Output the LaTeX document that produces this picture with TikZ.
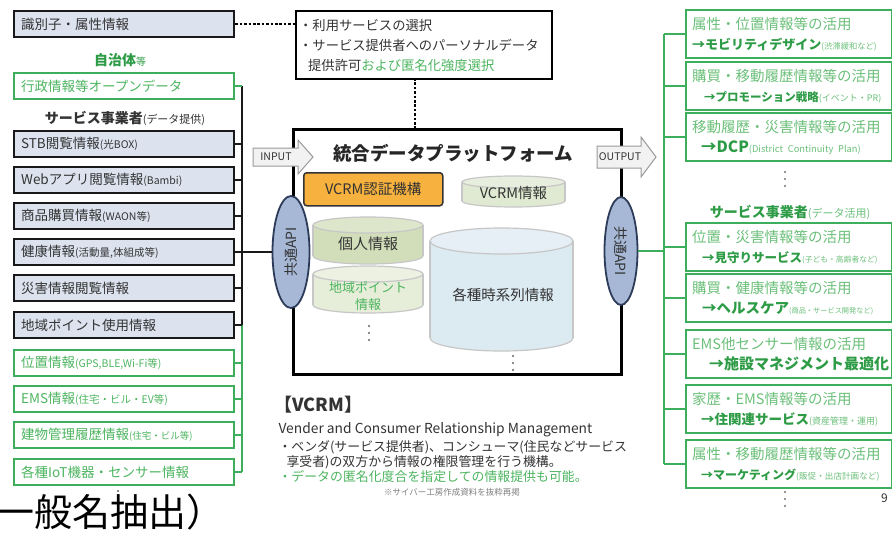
\documentclass[tikz,border=0pt]{standalone}
\usepackage{fontspec}
\setmainfont{Noto Sans CJK JP}
\usetikzlibrary{shapes.geometric}
\definecolor{lbfill}{HTML}{DCE3EF}
\definecolor{gline}{HTML}{3DAE5B}
\definecolor{gtext}{HTML}{4DB560}
\definecolor{gdark}{HTML}{2E9C46}
\definecolor{gpale}{HTML}{6CC07A}
\definecolor{darktxt}{HTML}{333333}
\definecolor{orng}{HTML}{F6B13E}
\definecolor{apifill}{HTML}{A6B8D6}
\definecolor{apiline}{HTML}{2C3B58}
\definecolor{cylA}{HTML}{E0E9D1}
\definecolor{cylB}{HTML}{D2DEBA}
\definecolor{cylC}{HTML}{E6EDD9}
\definecolor{cylD}{HTML}{DCEAF2}
\definecolor{arrfill}{HTML}{F2F2F2}
\definecolor{arrline}{HTML}{9A9A9A}
\newcommand\fsz[1]{\fontsize{#1}{#1}\selectfont}
\newcommand\rtwo[5]{\hspace*{#1pt}{\color{gdark}\bfseries\fsz{#4}→#2}{\color{gpale}\fsz{#5}#3}}
\newcommand\cylshape[6]{%
  \fill[#6, draw=black!22, line width=1.2pt] (#1,#4) ellipse [x radius=#2, y radius=#5];
  \fill[#6] (#1-#2,#3) rectangle (#1+#2,#4);
  \draw[black!22, line width=1.2pt] (#1-#2,#3) -- (#1-#2,#4) (#1+#2,#3) -- (#1+#2,#4);
  \fill[#6!75!white, draw=black!22, line width=1.2pt] (#1,#3) ellipse [x radius=#2, y radius=#5];}
\newcommand\mydots[4]{\foreach \k in {0,...,#4}{\fill[#1] (#2,#3+\k*7) circle (1.1);}}
\begin{document}
\begin{tikzpicture}[x=1pt,y=-1pt,
  lbox/.style={draw=black!90, line width=2.3pt, fill=lbfill, text=darktxt, anchor=north west, minimum height=26pt, text width=206pt, inner xsep=7pt, inner ysep=0pt, align=left, font=\fsz{13.5}},
  gbox/.style={draw=gline, line width=2.3pt, fill=white, text=gtext, anchor=north west, minimum height=26pt, text width=206pt, inner xsep=7pt, inner ysep=0pt, align=left, font=\fsz{13.5}},
  rbox/.style={draw=gline, line width=2.3pt, fill=white, anchor=north west, minimum height=48pt, text width=194pt, inner xsep=6pt, inner ysep=0pt, align=left, text=gpale, font=\fontsize{14.5}{20}\selectfont},
  bl/.style={black!90, line width=2pt},
  gl/.style={gline, line width=2.3pt},
  dotl/.style={black, line width=2.6pt, dash pattern=on 2.6pt off 1.8pt},
  api/.style={ellipse, draw=apiline, line width=1.8pt, fill=apifill, inner sep=0pt},
  cyltext/.style={font=\fsz{14.5}, text=darktxt, align=center}]
\useasboundingbox (0,0) rectangle (892,533);
\fill[white] (0,0) rectangle (892,533);

% ---------------- left column
\node[lbox] (b1) at (13,10) {識別子・属性情報};
\node[font=\fsz{14}, text=gdark] (lg1) at (120,60) {{\bfseries 自治体}{\fsz{10}等}};
\node[gbox] (b2) at (13,72) {行政情報等オープンデータ};
\node[font=\fsz{14}, text=darktxt] (lg2) at (125,118) {{\bfseries サービス事業者}{\fsz{11}(データ提供)}};
\node[lbox] (b3) at (13,130) {STB閲覧情報{\fsz{10.5}(光BOX)}};
\node[lbox] (b4) at (13,166) {Webアプリ閲覧情報{\fsz{10.5}(Bambi)}};
\node[lbox] (b5) at (13,202) {商品購買情報{\fsz{10.5}(WAON等)}};
\node[lbox] (b6) at (13,238) {健康情報{\fsz{10.5}(活動量,体組成等)}};
\node[lbox] (b7) at (13,274) {災害情報閲覧情報};
\node[lbox] (b8) at (13,311) {地域ポイント使用情報};
\node[gbox] (b9) at (13,349) {位置情報{\fsz{10.5}(GPS,BLE,Wi-Fi等)}};
\node[gbox] (b10) at (13,385) {EMS情報{\fsz{10.5}(住宅・ビル・EV等)}};
\node[gbox] (b11) at (13,421) {建物管理履歴情報{\fsz{9.5}(住宅・ビル等)}};
\node[gbox] (b12) at (13,458) {各種IoT機器・センサー情報};
\mydots{black!60}{118}{491}{3}

\coordinate (ls) at (242,0);
\draw[bl] (b2.east -| ls) -- (b8.east -| ls);
\draw[gl] (b8.east -| ls) -- (b12.east -| ls);
\draw[gl] (b2.east) -- (b2.east -| ls);
\foreach \n in {b3,b4,b5,b6,b7,b8} \draw[bl] (\n.east) -- (\n.east -| ls);
\foreach \n in {b9,b10,b11,b12} \draw[gl] (\n.east) -- (\n.east -| ls);

% ---------------- top selection box
\node[draw, line width=2.3pt, fill=white, anchor=north west, minimum width=256pt, minimum height=68pt, text width=250pt, inner xsep=3pt, inner ysep=0pt, align=left, text=darktxt, font=\fontsize{13.3}{20}\selectfont] (sel) at (295,10)
  {・利用サービスの選択\\・サービス提供者へのパーソナルデータ\\\hspace*{9pt}提供許可{\color{gtext}および匿名化強度選択}};
\draw[dotl] (b1.east) -- (b1.east -| sel.west);

% ---------------- platform
\node[draw, line width=3pt, fill=white, anchor=north west, minimum width=328pt, minimum height=245pt, inner sep=0pt] (plat) at (292,128) {};
\coordinate (vd) at (415,78);
\draw[dotl] (vd) -- (vd |- plat.north);
\node[font=\bfseries\fsz{18.5}, text=black!85] (title) at (453,153) {統合データプラットフォーム};

\node[draw=black!80, line width=1.5pt, fill=orng, rounded corners=3pt, anchor=north west, minimum width=139pt, minimum height=33pt, font=\fsz{14.5}, text=darktxt] (auth) at (303,172) {VCRM認証機構};

\cylshape{513.5}{51.5}{182}{201}{6}{cylA}
\node[cyltext] (vinfo) at (513.5,193) {VCRM情報};
\cylshape{368}{55}{225}{256}{8}{cylB}
\node[cyltext, font=\fsz{15}] (pinfo) at (368,244) {個人情報};
\cylshape{368}{55}{274}{305}{8}{cylC}
\node[cyltext, font=\fontsize{13}{17}\selectfont, text=gtext] (rinfo) at (368,296) {地域ポイント\\情報};
\mydots{black!60}{369}{326}{2}
\cylshape{501.5}{71.5}{241}{338}{13}{cylD}
\node[cyltext] (tinfo) at (503,295) {各種時系列情報};
\mydots{black!60}{513}{356}{2}

% INPUT / OUTPUT arrows
\draw[fill=arrfill, draw=arrline, line width=1pt] (253,148) -- (298,148) -- (298,140) -- (313,157) -- (298,174) -- (298,166) -- (253,166) -- cycle;
\node[font=\fsz{10.5}, text=darktxt] (inp) at (276,157) {INPUT};
\draw[fill=arrfill, draw=arrline, line width=1pt] (597,146) -- (641,146) -- (641,137) -- (656,157) -- (641,177) -- (641,168) -- (597,168) -- cycle;
\node[font=\fsz{10.5}, text=darktxt] (outp) at (620,157) {OUTPUT};

% APIs
\node[api, minimum width=37pt, minimum height=112pt] (lapi) at (291,252) {};
\node[rotate=90, font=\fsz{14}, text=darktxt] at (lapi) {共通API};
\node[api, minimum width=33pt, minimum height=108pt] (rapi) at (621,251) {};
\node[rotate=-90, font=\fsz{14}, text=darktxt] at (rapi) {共通API};
\draw[bl] (lapi.west -| ls) -- (lapi.west);

% ---------------- right column
\node[rbox] (r1) at (685,9) {属性・位置情報等の活用\\\rtwo{0}{モビリティデザイン}{(渋滞緩和など)}{13}{8.3}};
\node[rbox] (r2) at (685,61) {購買・移動履歴情報等の活用\\\rtwo{12}{プロモーション戦略}{(イベント・PR)}{11.5}{9}};
\node[rbox] (r3) at (685,112) {移動履歴・災害情報等の活用\\\rtwo{9}{DCP}{(District Continuity Plan)}{15.5}{9.3}};
\mydots{black!55}{785}{172}{2}
\node[font=\fsz{14}, text=gdark] (rg) at (790,212) {{\bfseries サービス事業者}{\color{gpale}\fsz{11}(データ活用)}};
\node[rbox] (r4) at (685,222) {位置・災害情報等の活用\\\rtwo{10}{見守りサービス}{(子ども・高齢者など)}{12.5}{7.8}};
\node[rbox] (r5) at (685,273) {購買・健康情報等の活用\\\rtwo{10}{ヘルスケア}{(商品・サービス開発など)}{14.5}{7.2}};
\node[rbox] (r6) at (685,329) {EMS他センサー情報の活用\\\rtwo{17}{施設マネジメント最適化}{}{15}{8}};
\node[rbox] (r7) at (685,384) {家歴・EMS情報等の活用\\\rtwo{9}{住関連サービス}{(資産管理・運用)}{13.5}{9}};
\node[rbox] (r8) at (685,439) {属性・移動履歴情報等の活用\\\rtwo{9}{マーケティング}{(販促・出店計画など)}{12}{8.6}};
\mydots{black!55}{785}{492}{2}
\node[font=\fsz{12}, text=darktxt, anchor=west, inner sep=1pt] (pg) at (880,498) {9};

\coordinate (rs) at (664,0);
\draw[gl] (r1.west -| rs) -- (r8.west -| rs);
\foreach \n in {r1,r2,r3,r4,r5,r6,r7,r8} \draw[gl] (\n.west) -- (\n.west -| rs);
\draw[gl] (rapi.east) -- (rapi.east -| rs);

% ---------------- VCRM explanation
\node[anchor=west, font=\bfseries\fsz{18}, text=darktxt] (vh) at (271,405) {【VCRM】};
\node[anchor=west, font=\fsz{13.8}, text=darktxt] (v1) at (275,430) {Vender and Consumer Relationship Management};
\node[anchor=west, font=\fsz{12.9}, text=darktxt] (v2) at (275,447) {・ベンダ(サービス提供者)、コンシューマ(住民などサービス};
\node[anchor=west, font=\fsz{12.9}, text=darktxt] (v3) at (283,462) {享受者)の双方から情報の権限管理を行う機構。};
\node[anchor=west, font=\fsz{12.9}, text=gtext] (v4) at (275,477) {・データの匿名化度合を指定しての情報提供も可能。};
\node[font=\fsz{8.5}, text=black!50] (note) at (452,492) {※サイバー工房作成資料を抜粋再掲};

% ---------------- clipped large text
\begin{scope}
\clip (0,0) rectangle (892,533);
\node[anchor=north west, inner sep=0pt, font=\fsz{38}, text=black] (big) at (-4,494) {一般名抽出）};
\end{scope}
\end{tikzpicture}
\end{document}
